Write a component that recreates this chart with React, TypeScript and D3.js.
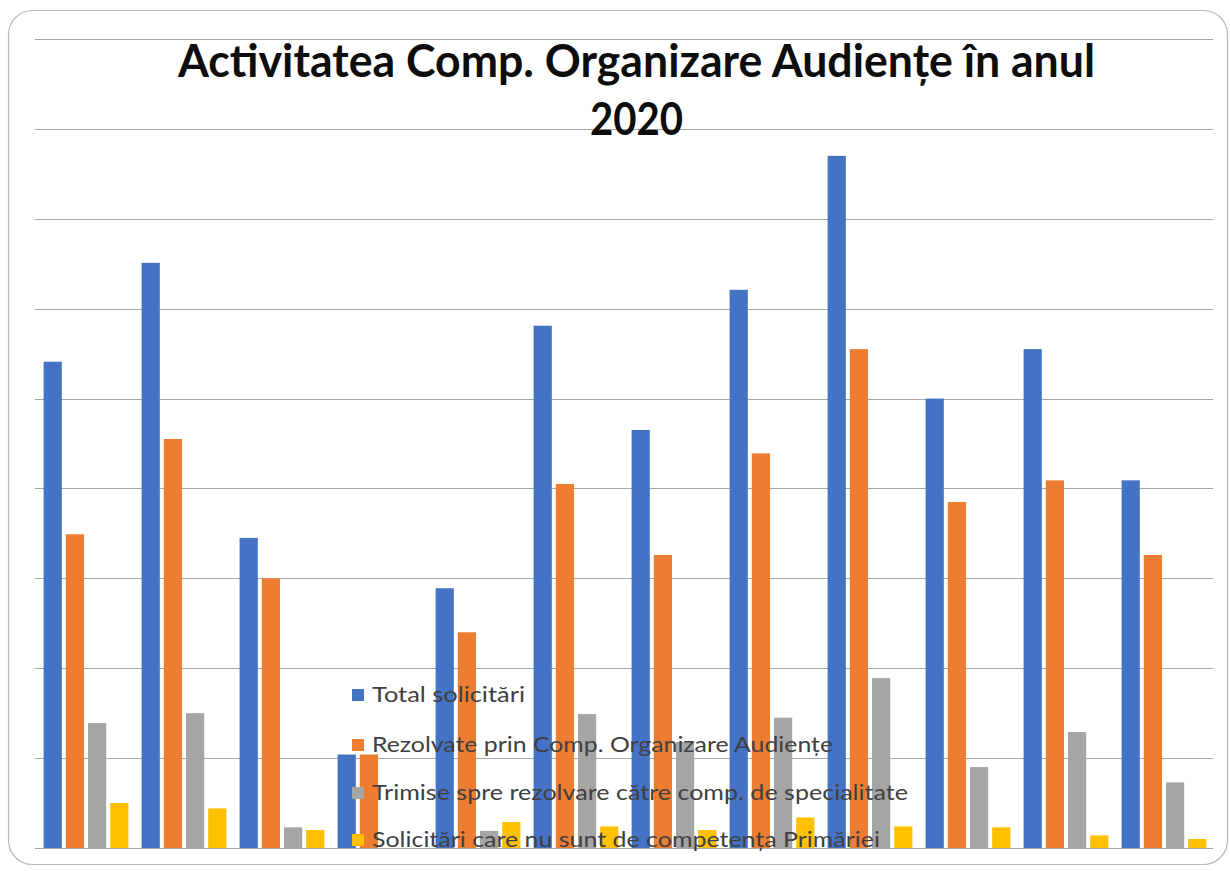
import React from "react";
import * as d3 from "d3";

const months = ["Ian", "Feb", "Mar", "Apr", "Mai", "Iun", "Iul", "Aug", "Sep", "Oct", "Noi", "Dec"];
const seriesNames = [
  "Total solicitări",
  "Rezolvate prin Comp. Organizare Audiențe",
  "Trimise spre rezolvare către comp. de specialitate",
  "Solicitări care nu sunt de competența Primăriei",
];
const totalSolicitari = [541, 651, 345, 104, 289, 581, 465, 621, 770, 500, 555, 409];
const rezolvate = [349, 455, 300, 104, 240, 405, 326, 439, 555, 385, 409, 326];
const trimise = [139, 150, 23, 0, 19, 149, 118, 145, 189, 90, 129, 73];
const necompetenta = [50, 44, 20, 0, 29, 24, 20, 34, 24, 23, 14, 10];
const gridTicks = [0, 100, 200, 300, 400, 500, 600, 700, 800, 900];
const colors = ["#4472C4", "#ED7D31", "#A5A5A5", "#FFC000"];
const titleLines = ["Activitatea Comp. Organizare Audiențe în anul", "2020"];

const W = 1230;
const H = 871;

export default function App() {
  const series = [totalSolicitari, rezolvate, trimise, necompetenta];
  const y = d3.scaleLinear().domain([0, 900]).range([848, 39]);
  const x0 = d3
    .scaleBand<string>()
    .domain(months)
    .range([37, 1213])
    .paddingInner(0.135)
    .paddingOuter(0.0675);
  const x1 = d3
    .scaleBand<number>()
    .domain([0, 1, 2, 3])
    .range([0, x0.bandwidth()])
    .paddingInner(0.18)
    .paddingOuter(0);

  const legendTextLen = [153, 461, 536, 508];
  const legendRowY = [695, 745, 793, 840];

  return (
    <svg
      width={W}
      height={H}
      style={{ position: "absolute", left: 0, top: 0, background: "#fff" }}
    >
      <rect x={0} y={0} width={W} height={H} fill="#fff" />
      <rect
        x={8.5}
        y={10.5}
        width={1219}
        height={854}
        rx={24}
        ry={24}
        fill="#fff"
        stroke="#b8b8b8"
        strokeWidth={1.2}
      />
      {gridTicks.map((t) => (
        <line
          key={t}
          x1={35}
          x2={1213}
          y1={Math.round(y(t)) + 0.5}
          y2={Math.round(y(t)) + 0.5}
          stroke="#a6a6a6"
          strokeWidth={1}
        />
      ))}
      {months.map((m, i) => (
        <g key={m} transform={`translate(${x0(m)},0)`}>
          {series.map((s, k) => (
            <rect
              key={k}
              x={x1(k)}
              y={y(s[i])}
              width={x1.bandwidth()}
              height={y(0) - y(s[i])}
              fill={colors[k]}
            />
          ))}
        </g>
      ))}
      <g fontFamily="Lato, 'Open Sans', sans-serif" fontWeight={700} fill="#0d0d0d" textAnchor="middle">
        <text x={636.5} y={77} fontSize={45} textLength={917} lengthAdjust="spacingAndGlyphs">
          {titleLines[0]}
        </text>
        <text x={636.5} y={135} fontSize={45} textLength={93} lengthAdjust="spacingAndGlyphs">
          {titleLines[1]}
        </text>
      </g>
      <g fontFamily="Lato, 'Open Sans', sans-serif" fontSize={21} fill="#404040">
        {seriesNames.map((n, k) => (
          <g key={n}>
            <rect x={352} y={legendRowY[k] - 6} width={12} height={12} fill={colors[k]} />
            <text
              x={372}
              y={legendRowY[k] + 7}
              textLength={legendTextLen[k]}
              lengthAdjust="spacingAndGlyphs"
            >
              {n}
            </text>
          </g>
        ))}
      </g>
    </svg>
  );
}
